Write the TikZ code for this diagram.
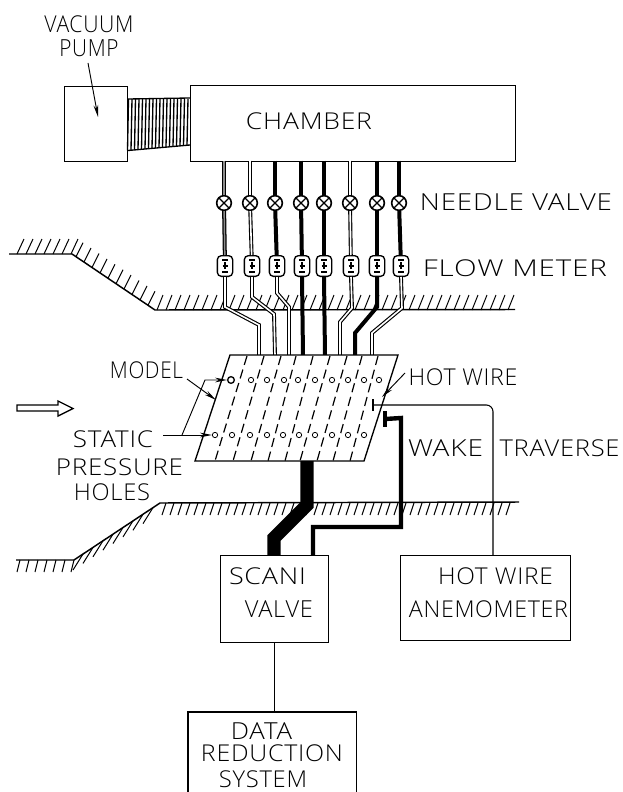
\documentclass[tikz,border=0pt]{standalone}
\usepackage{graphicx}
\usepackage{fontspec}
\usetikzlibrary{arrows.meta}
\newfontfamily\labfont[LetterSpace=3,UprightFont=* Light]{Open Sans}
\newdimen\pxu \pxu=0.75pt
\newcommand\lab[2]{\resizebox{#1\pxu}{12.6pt}{\labfont #2}}
\tikzset{
  x=0.75pt,y=-0.75pt,
  box/.style={draw,line width=.85pt,inner sep=0pt,anchor=north west},
  txt/.style={inner sep=0pt},
  thin line/.style={line width=.8pt},
  leader/.style={line width=.7pt,-{Stealth[length=9pt,width=3.5pt]}},
  wall/.style={line width=1.1pt},
  hatchline/.style={line width=.75pt},
  solidtube/.style={line width=3pt},
  hollowtube/.style={line width=.85pt,double=white,double distance=1.2pt},
  greytube/.style={line width=.95pt,double=black!45,double distance=1.1pt},
  valve/.style={circle,draw,fill=white,line width=1.2pt,inner sep=0pt,minimum size=11pt,
    path picture={\draw[line width=1pt] (path picture bounding box.north west)--(path picture bounding box.south east)
      (path picture bounding box.north east)--(path picture bounding box.south west);}},
  meter/.style={rectangle,rounded corners=3pt,draw,fill=white,
    line width=1pt,inner sep=0pt,minimum width=11.5pt,minimum height=15.5pt,
    path picture={\draw[line width=.8pt,sharp corners,shift={(path picture bounding box.center)}]
      (-3,-6)--(3,-6) (0,-4)--(0,3) (-2.5,0)--(2.5,0) (-3,6)--(3,6);}},
  hole/.style={circle,draw,fill=white,line width=.6pt,inner sep=0pt,minimum size=4pt},
  slantdash/.style={line width=.9pt,dash pattern=on 7pt off 3.6pt},
}
\begin{document}
\begin{tikzpicture}
\useasboundingbox (0,0) rectangle (623,792);
\fill[white] (0,0) rectangle (623,792);

% walls
\draw[wall] (9,254)--(72,254)--(155,310)--(515,309.5);
\foreach \a in {17,26,...,71} \draw[hatchline] (\a,254)--(\a+7,239);
\foreach \a in {76,84,...,150} \draw[hatchline] ({\a},{254+(\a-72)*56/83})--({\a+7},{254+(\a-72)*56/83-14});
\foreach \a in {157,166,...,512} \draw[hatchline] (\a,310)--(\a+6,295);
\draw[wall] (16,560)--(74,560)--(160,503)--(519,502);
\foreach \a in {20,29,...,74} \draw[hatchline] (\a,560)--(\a-3,572);
\foreach \a in {83,93,...,155} \draw[hatchline] ({\a},{560-(\a-74)*57/86})--({\a-10},{560-(\a-74)*57/86+16});
\foreach \a in {166,174,...,517} \draw[hatchline] (\a,503)--(\a-4,515);

% boxes
\node[box,minimum width=63*\the\pxu,minimum height=75*\the\pxu] (pump) at (63.5,86) {};
\node[box,minimum width=325*\the\pxu,minimum height=75.5*\the\pxu] (chamber) at (190,85) {};
\node[box,minimum width=108*\the\pxu,minimum height=87*\the\pxu] (scani) at (220,555) {};
\node[box,minimum width=170*\the\pxu,minimum height=85*\the\pxu] (anem) at (400,555) {};
\node[txt,minimum width=168*\the\pxu,minimum height=80*\the\pxu,anchor=north west] (data) at (188,712) {};
\draw[line width=.85pt] (data.south west)--(data.north west)--(data.north east)--(data.south east);
\draw[thin line] (scani.south)--(scani.south|-data.north);

% hose
\draw[line width=1pt] (128,99)--(190,98) (128,150.5)--(190,145);
\foreach \i in {0,...,17} \draw[line width=1pt] ({128.5+3.5*\i},99)--({127.5+3.5*\i},{150.5-5.5*\i/17.5});

% needle valves, flow meters and tubes
\foreach \n/\x/\mx/\s in {1/224/225/greytube,2/250/252/hollowtube,3/275/277/solidtube,4/301/302/solidtube,5/324/324/solidtube,6/350/351/hollowtube,7/377/377/solidtube,8/399/401/solidtube}{
  \coordinate (c\n) at (\x,160.5);
  \node[valve] (v\n) at (\x,203) {};
  \node[meter] (m\n) at (\mx,266) {};
  \draw[\s] (c\n)--(v\n);
  \draw[\s] (v\n)--(m\n);
}
\draw[hollowtube,line join=miter] (m1.south)--(225,307)--(259,325)--(259,355);
\draw[hollowtube,line join=miter] (m2.south)--(252,297)--(274,314)--(275,355);
\draw[hollowtube,line join=miter] (m3.south)--(277,293)--(289,307)--(289,355);
\draw[solidtube] (m4.south)--(303,355);
\draw[solidtube] (m5.south)--(325,355);
\draw[hollowtube,line join=miter] (m6.south)--(352,308)--(340,322)--(340,355);
\draw[solidtube,line join=miter] (m7.south)--(377,307)--(355,333)--(355,355);
\draw[hollowtube,line join=miter] (m8.south)--(402,308)--(372,333)--(372,355);

% model
\coordinate (mtl) at (230,355); \coordinate (mtr) at (398,355);
\coordinate (mbr) at (364,461); \coordinate (mbl) at (195,461);
\fill[white] (mtl)--(mtr)--(mbr)--(mbl)--cycle;
\draw[line width=1pt,line join=miter] (mtl)--(mtr)--(mbr)--(mbl)--cycle;
\foreach \t/\b in {247/215,264/233,281/251,296/268,313/285,330/300,347/317,362/333,378/350}
  \draw[slantdash] (\t,356)--(\b,461);
\foreach \x in {251,267,284,298,315,332,348,364,379} \node[hole] at (\x,380) {};
\node[hole,line width=1pt,minimum size=5pt] (hA) at (231,380) {};
\foreach \x in {232,250,267,283,299,315,332,348,364} \node[hole] at (\x,435) {};
\node[hole] (hB) at (215,435) {};

% wake traverse and pipes
\node[txt,fill,minimum width=3.5pt,minimum height=12pt] (probe) at (385,419) {};
\draw[line width=3.3pt,line join=miter] (probe.center)--(401,418)--(401,527)--(313,527)--(313,555);
\draw[line width=10pt,line join=miter] (307,461)--(307,505)--(274,538)--(274,555);
\draw[line width=1.1pt] (373,399)--(373,411);
\draw[thin line,rounded corners=5pt] (373,405)--(493,405)--(493,555);

% flow arrow
\draw[line width=1pt,line join=miter,fill=white] (17,405)--(58,405)--(58,401)--(73,408.5)--(58,416)--(58,411)--(17,411)--cycle;

% labels
\node[txt] (t1) at (89,24) {\lab{89}{VACUUM}};
\node[txt] (t2) at (89,48) {\lab{59}{PUMP}};
\node[txt] (t3) at (309,121) {\lab{126}{CHAMBER}};
\node[txt] (t4) at (516,202) {\lab{192}{NEEDLE VALVE}};
\node[txt] (t5) at (515,268) {\lab{184}{FLOW METER}};
\node[txt] (t6) at (146.5,370) {\lab{73}{MODEL}};
\node[txt] (t7) at (463,377) {\lab{109}{HOT WIRE}};
\node[txt] (t8) at (445.5,448) {\lab{75}{WAKE}};
\node[txt] (t9) at (559.5,448) {\lab{120}{TRAVERSE}};
\node[txt] (t10) at (113,439) {\lab{80}{STATIC}};
\node[txt] (t11) at (119.5,467) {\lab{127}{PRESSURE}};
\node[txt] (t12) at (112,492) {\lab{76}{HOLES}};
\node[txt] (t13) at (267.5,576) {\lab{77}{SCANI}};
\node[txt] (t14) at (279,609) {\lab{68}{VALVE}};
\node[txt] (t15) at (495.5,576) {\lab{115}{HOT WIRE}};
\node[txt] (t16) at (488.5,609) {\lab{159}{ANEMOMETER}};
\node[txt] (t17) at (261.5,731) {\lab{61}{DATA}};
\node[txt] (t18) at (272,753) {\lab{142}{REDUCTION}};
\node[txt] (t19) at (263,779) {\lab{88}{SYSTEM}};

% leaders
\coordinate (pA) at (88,63); \coordinate (pB) at (98,117);
\draw[leader] (pA)--(pB);
\coordinate (mA) at (187,379); \coordinate (mB) at (216,400);
\draw[leader] (mA)--(mB);
\coordinate (sA) at (163,435); \coordinate (sB) at (182,435); \coordinate (sC) at (205,380);
\draw[leader] (sA)--(hB.west);
\draw[leader] (sB)--(sC)--(hA.west);
\coordinate (wA) at (405,373); \coordinate (wB) at (382,397);
\draw[leader] (wA)--(wB);
\end{tikzpicture}
\end{document}
